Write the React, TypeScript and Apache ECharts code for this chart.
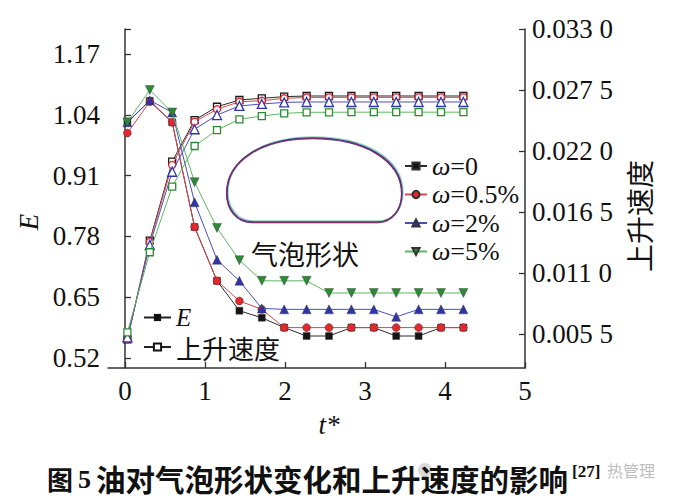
import React, { useEffect, useRef } from "react";
import * as echarts from "echarts";

// ---- data ----
const tValues = [0.03, 0.31, 0.59, 0.87, 1.15, 1.43, 1.71, 1.99, 2.27, 2.55, 2.83, 3.11, 3.39, 3.67, 3.95, 4.23];
const omegaNames = ["ω=0", "ω=0.5%", "ω=2%", "ω=5%"];

const eOmega0 = [1.024, 1.07, 1.024, 0.8, 0.685, 0.621, 0.606, 0.585, 0.567, 0.567, 0.585, 0.585, 0.567, 0.567, 0.585, 0.585];
const eOmega05 = [1.001, 1.068, 1.024, 0.8, 0.685, 0.642, 0.624, 0.585, 0.585, 0.585, 0.585, 0.585, 0.585, 0.585, 0.585, 0.585];
const eOmega2 = [1.024, 1.071, 1.045, 0.853, 0.73, 0.685, 0.626, 0.624, 0.624, 0.624, 0.624, 0.624, 0.608, 0.624, 0.624, 0.624];
const eOmega5 = [1.024, 1.093, 1.045, 0.896, 0.798, 0.729, 0.685, 0.685, 0.685, 0.659, 0.659, 0.659, 0.659, 0.659, 0.659, 0.659];

const vOmega0 = [0.00502, 0.01391, 0.02104, 0.02479, 0.02599, 0.0266, 0.02675, 0.0269, 0.02696, 0.02696, 0.02696, 0.02696, 0.02696, 0.02696, 0.02696, 0.02696];
const vOmega05 = [0.00502, 0.0138, 0.02074, 0.02464, 0.02576, 0.02644, 0.02653, 0.02675, 0.02683, 0.02684, 0.02684, 0.02684, 0.02684, 0.02684, 0.02684, 0.02684];
const vOmega2 = [0.0052, 0.01352, 0.02013, 0.02396, 0.02524, 0.02606, 0.02624, 0.02638, 0.02642, 0.02642, 0.02642, 0.02642, 0.02642, 0.02642, 0.02642, 0.02642];
const vOmega5 = [0.00565, 0.01287, 0.01878, 0.02245, 0.02389, 0.02486, 0.02515, 0.02539, 0.02549, 0.02549, 0.0255, 0.0255, 0.0255, 0.0255, 0.0255, 0.0255];

const xTicks = [0, 1, 2, 3, 4, 5];
const eTicks = [0.52, 0.65, 0.78, 0.91, 1.04, 1.17];
const vTicks = [0.0055, 0.011, 0.0165, 0.022, 0.0275, 0.033];

const eData = [eOmega0, eOmega05, eOmega2, eOmega5];
const vData = [vOmega0, vOmega05, vOmega2, vOmega5];

// ---- styles ----
const markColors = ["#151515", "#e5262f", "#2f35a6", "#2c8a35"];
const lineColors = ["#2a2a2a", "#d8454e", "#4a4fb8", "#5db860"];
const filledSymbols = ["rect", "circle", "triangle", "path://M0,0L10,0L5,9Z"];
const openSymbols = ["rect", "circle", "triangle", "rect"];
const serif = "Liberation Serif, Noto Sans CJK SC, serif";
const cjk = "Noto Sans CJK SC, sans-serif";

const bubblePath =
  "M227,193 C227,160 262,138 313,138 C365,138 402,160 402,193 C402,210 392,222 377,222 L253,222 C236,222 227,208 227,193 Z";
echarts.graphic.registerShape("bubbleShape", echarts.graphic.extendPath(bubblePath, {}));

export default function App() {
  const ref = useRef<HTMLDivElement>(null);

  useEffect(() => {
    document.body.style.margin = "0";
    if (!ref.current) return;
    const chart = echarts.init(ref.current, null, { renderer: "svg" });

    const eSeries = omegaNames.map((name, i) => ({
      name,
      type: "line",
      yAxisIndex: 0,
      data: tValues.map((t, j) => [t, eData[i][j]]),
      symbol: filledSymbols[i],
      symbolSize: i === 0 ? 7 : i === 1 ? 8 : 9,
      itemStyle: { color: markColors[i], borderColor: "#333", borderWidth: 0.4 },
      lineStyle: { color: lineColors[i], width: 1 },
      z: 2 + i,
    }));
    const vSeries = omegaNames.map((name, i) => ({
      name: name + " 上升速度",
      type: "line",
      yAxisIndex: 1,
      data: tValues.map((t, j) => [t, vData[i][j]]),
      symbol: openSymbols[i],
      symbolSize: i === 2 ? 9 : 7,
      itemStyle: { color: "#ffffff", borderColor: markColors[i], borderWidth: 1.3 },
      lineStyle: { color: lineColors[i], width: 1 },
      z: 2 + i,
    }));
    const legendSeries = [
      {
        name: "E",
        type: "line",
        data: [],
        symbol: "rect",
        symbolSize: 8,
        itemStyle: { color: "#111" },
        lineStyle: { color: "#222", width: 1 },
      },
      {
        name: "上升速度",
        type: "line",
        data: [],
        symbol: "rect",
        symbolSize: 8,
        itemStyle: { color: "#fff", borderColor: "#111", borderWidth: 1.2 },
        lineStyle: { color: "#222", width: 1 },
      },
    ];

    const axisLine = { show: true, lineStyle: { color: "#333", width: 1.5 } };
    const axisLabelBase = { color: "#111", fontFamily: serif, fontSize: 27 };

    chart.setOption({
      animation: false,
      backgroundColor: "#ffffff",
      grid: { left: 108, top: 29, width: 417, height: 339, outerBoundsMode: "none", containLabel: false },
      xAxis: {
        type: "value",
        min: -0.2125,
        max: 5,
        axisLine,
        splitLine: { show: false },
        axisTick: { inside: true, length: 6, customValues: xTicks, lineStyle: { color: "#333", width: 1.3 } },
        axisLabel: { ...axisLabelBase, margin: 9, customValues: xTicks, formatter: (v: number) => String(v) },
      },
      yAxis: [
        {
          type: "value",
          min: 0.4986,
          max: 1.2235,
          axisLine,
          splitLine: { show: false },
          axisTick: {
            inside: true,
            length: 6,
            customValues: [...eTicks, 1.2235],
            lineStyle: { color: "#333", width: 1.3 },
          },
          axisLabel: { ...axisLabelBase, margin: 8, customValues: eTicks, formatter: (v: number) => v.toFixed(2) },
        },
        {
          type: "value",
          min: 0.002434,
          max: 0.033,
          position: "right",
          axisLine,
          splitLine: { show: false },
          axisTick: { inside: true, length: 6, customValues: vTicks, lineStyle: { color: "#333", width: 1.3 } },
          axisLabel: {
            ...axisLabelBase,
            margin: 7,
            customValues: vTicks,
            formatter: (v: number) => {
              const s = v.toFixed(4);
              return s.slice(0, -1) + " " + s.slice(-1);
            },
          },
        },
      ],
      legend: [
        {
          data: omegaNames,
          orient: "vertical",
          left: 404,
          top: 153,
          padding: 0,
          itemGap: 2.5,
          itemWidth: 22,
          itemHeight: 9,
          selectedMode: false,
          formatter: (name: string) => "{i|ω}{n|" + name.slice(1) + "}",
          textStyle: {
            color: "#111",
            fontFamily: serif,
            fontSize: 26,
            lineHeight: 20,
            rich: {
              i: { fontStyle: "italic", fontFamily: serif, fontSize: 26, color: "#111", lineHeight: 20 },
              n: { fontFamily: serif, fontSize: 26, color: "#111", lineHeight: 20 },
            },
          },
        },
        {
          data: ["E", "上升速度"],
          orient: "vertical",
          left: 143,
          top: 305,
          padding: 0,
          itemGap: 4,
          itemWidth: 27,
          itemHeight: 9,
          selectedMode: false,
          formatter: (name: string) => (name === "E" ? "{i|E}" : "{c|" + name + "}"),
          textStyle: {
            color: "#111",
            fontSize: 25,
            lineHeight: 24,
            rich: {
              i: { fontStyle: "italic", fontFamily: serif, fontSize: 25, color: "#111", lineHeight: 24 },
              c: { fontFamily: cjk, fontSize: 26, color: "#111", lineHeight: 24 },
            },
          },
        },
      ],
      graphic: [
        { type: "bubbleShape", x: 1, y: -1, silent: true, style: { fill: "none", stroke: "#8fd3b4", lineWidth: 1.3 } },
        { type: "bubbleShape", x: 0, y: 1, silent: true, style: { fill: "none", stroke: "#9a9a9a", lineWidth: 1.2 } },
        { type: "bubbleShape", x: 0, y: 0, silent: true, style: { fill: "none", stroke: "#3b3aa0", lineWidth: 1.4 } },
        { type: "bubbleShape", x: -0.5, y: 0.5, silent: true, style: { fill: "none", stroke: "#7a2d6a", lineWidth: 1.2 } },
        {
          type: "text",
          x: 305,
          y: 253,
          silent: true,
          style: { text: "气泡形状", font: "27px Noto Sans CJK SC", fill: "#111", textAlign: "center", textVerticalAlign: "middle" },
        },
        {
          type: "text",
          x: 29,
          y: 222,
          rotation: Math.PI / 2,
          silent: true,
          style: { text: "E", font: "italic 27px Liberation Serif", fill: "#111", textAlign: "center", textVerticalAlign: "middle" },
        },
        {
          type: "text",
          x: 639,
          y: 216,
          rotation: Math.PI / 2,
          silent: true,
          style: { text: "上升速度", font: "28px Noto Sans CJK SC", fill: "#111", textAlign: "center", textVerticalAlign: "middle" },
        },
        {
          type: "text",
          x: 329,
          y: 425,
          silent: true,
          style: { text: "t*", font: "italic 27px Liberation Serif", fill: "#111", textAlign: "center", textVerticalAlign: "middle" },
        },
        {
          type: "circle",
          shape: { cx: 425, cy: 470, r: 7 },
          silent: true,
          style: { fill: "#dadada" },
        },
        {
          type: "text",
          x: 607,
          y: 470,
          silent: true,
          style: { text: "热管理", font: "16px Noto Sans CJK SC", fill: "#bdbdbd", textAlign: "left", textVerticalAlign: "middle" },
        },
        {
          type: "text",
          x: 47,
          y: 478,
          silent: true,
          style: { text: "图", font: "bold 26px Noto Sans CJK SC", fill: "#111", textAlign: "left", textVerticalAlign: "middle" },
        },
        {
          type: "text",
          x: 78,
          y: 479,
          silent: true,
          style: { text: "5", font: "bold 26px Liberation Serif", fill: "#111", textAlign: "left", textVerticalAlign: "middle" },
        },
        {
          type: "text",
          x: 96,
          y: 478,
          silent: true,
          style: {
            text: "油对气泡形状变化和上升速度的影响",
            font: "bold 29.5px Noto Sans CJK SC",
            fill: "#111",
            textAlign: "left",
            textVerticalAlign: "middle",
          },
        },
        {
          type: "text",
          x: 572,
          y: 471,
          silent: true,
          style: { text: "[27]", font: "bold 17px Liberation Serif", fill: "#111", textAlign: "left", textVerticalAlign: "middle" },
        },
      ],
      series: [...legendSeries, ...eSeries, ...vSeries],
    });

    return () => chart.dispose();
  }, []);

  return <div ref={ref} style={{ width: 674, height: 499 }} />;
}
